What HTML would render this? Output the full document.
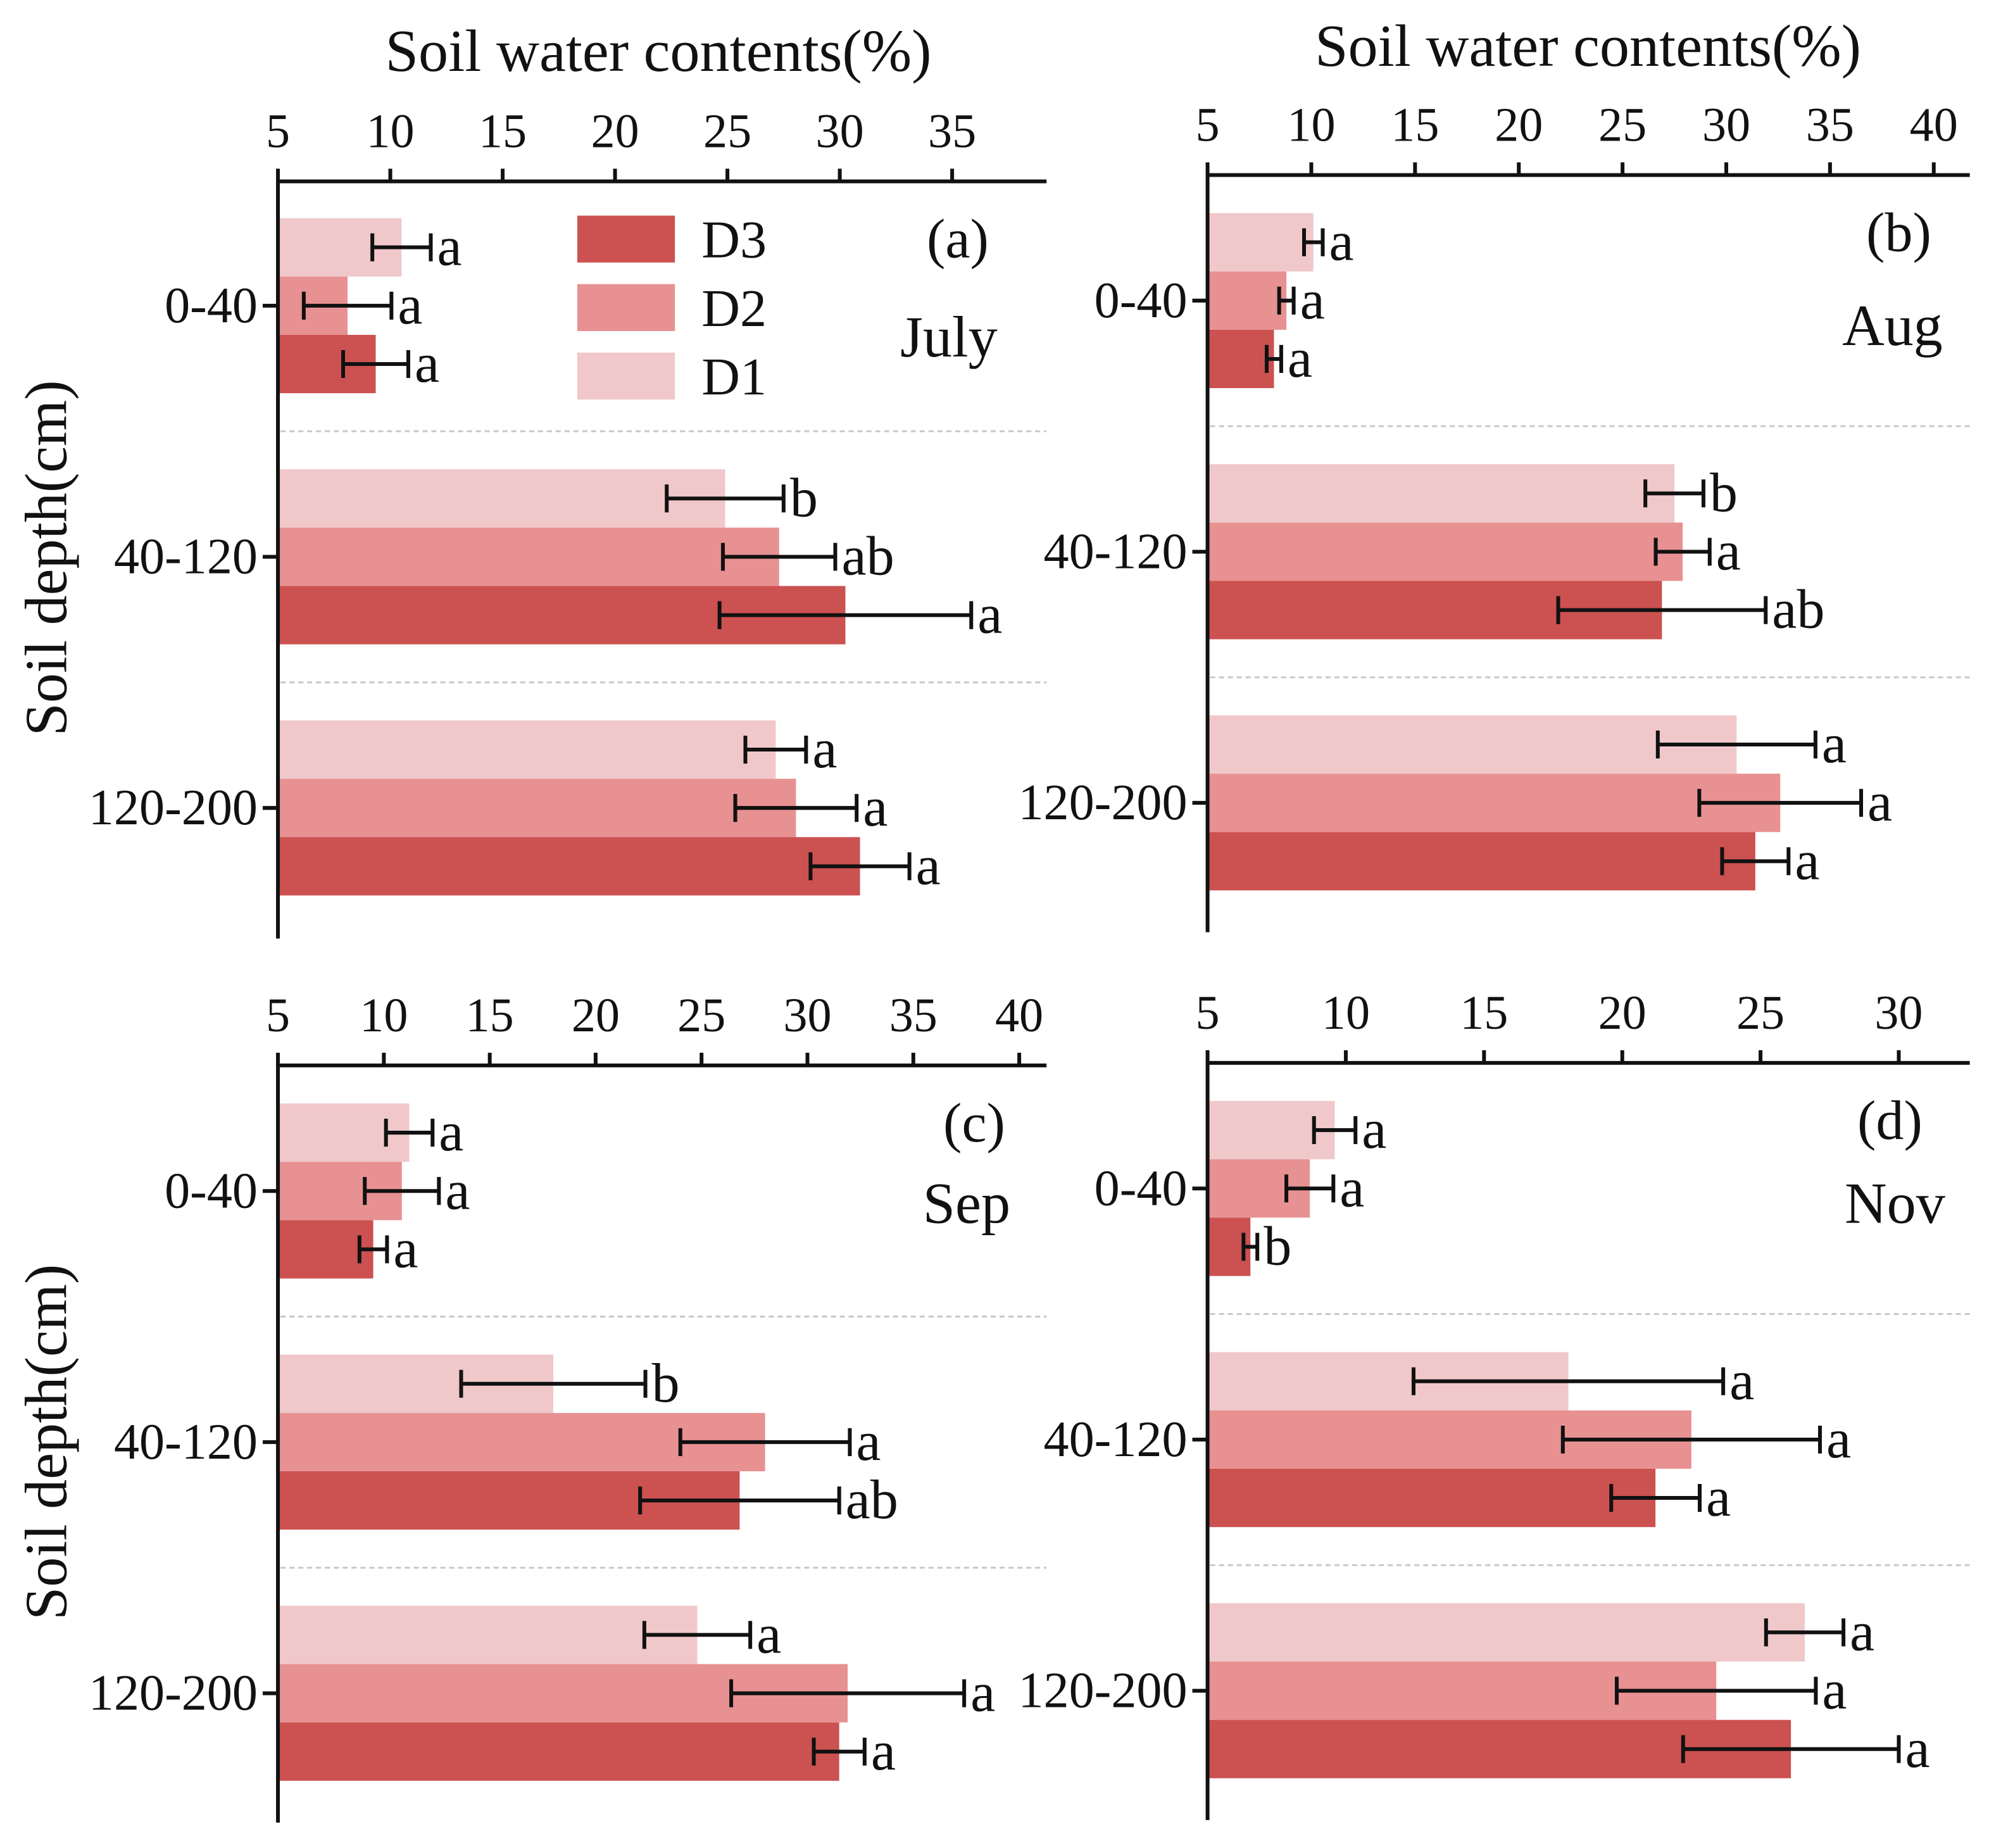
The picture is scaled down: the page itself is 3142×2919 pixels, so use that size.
<!DOCTYPE html>
<html><head><meta charset="utf-8"><style>
html,body{margin:0;padding:0;background:#fff;}
svg{display:block;}
svg text{font-family:"Liberation Serif","DejaVu Serif",serif;fill:#111;}
</style></head><body>
<svg id="fig" width="3142" height="2919" viewBox="0 0 1568 1457" font-family="Liberation Serif, DejaVu Serif, serif" xmlns="http://www.w3.org/2000/svg"></svg>
<script>
const categories = ["0-40","40-120","120-200"];
const series = ["D1","D2","D3"];
// means [category][D1,D2,D3]
const meansA = [[10.5,8.1,9.35],[24.9,27.3,30.25],[27.15,28.05,30.9]];
const errA   = [[1.3,1.95,1.45],[2.6,2.5,5.6],[1.35,2.7,2.2]];
const lettersA = [["a","a","a"],["b","ab","a"],["a","a","a"]];
const meansB = [[10.1,8.8,8.2],[27.5,27.9,26.9],[30.5,32.6,31.4]];
const errB   = [[0.45,0.35,0.35],[1.4,1.3,5.0],[3.8,3.9,1.6]];
const lettersB = [["a","a","a"],["b","a","ab"],["a","a","a"]];
const meansC = [[11.2,10.85,9.5],[18.0,28.0,26.8],[24.8,31.9,31.5]];
const errC   = [[1.1,1.75,0.65],[4.35,4.0,4.7],[2.5,5.5,1.2]];
const lettersC = [["a","a","a"],["b","a","ab"],["a","a","a"]];
const meansD = [[9.6,8.7,6.55],[18.05,22.5,21.2],[26.6,23.4,26.1]];
const errD   = [[0.75,0.85,0.25],[5.6,4.65,1.6],[1.4,3.6,3.9]];
const lettersD = [["a","a","b"],["a","a","a"],["a","a","a"]];
const ticksA = [5,10,15,20,25,30,35];
const ticksB = [5,10,15,20,25,30,35,40];
const ticksC = [5,10,15,20,25,30,35,40];
const ticksD = [5,10,15,20,25,30];
const colors = {D1:"#f0c8ca",D2:"#e89192",D3:"#cc5151"};

const NS="http://www.w3.org/2000/svg";
const FF="'Liberation Serif','DejaVu Serif',serif";
const svg=document.getElementById('fig');
function mk(tag,attrs,parent){const e=document.createElementNS(NS,tag);for(const k in attrs)e.setAttribute(k,attrs[k]);if(tag==='text')e.setAttribute('font-family',FF);(parent||svg).appendChild(e);return e;}

function panel(cfg){
  const g=mk('g',{});
  
  
  const x=v=>cfg.x0+(v-5)*cfg.pu;
  const bandH=198;
  const barH=46;
  categories.forEach((c,ci)=>{
    const top=cfg.firstTop+ci*bandH;
    series.forEach((s,si)=>{
      const m=cfg.means[ci][si], e=cfg.err[ci][si];
      const y=top+si*barH;
      const r=mk('rect',{x:cfg.x0,y:y,width:x(m)-cfg.x0,height:barH,fill:colors[s]},g);
      
      
      const cy=y+barH/2, lo=x(m-e), hi=x(m+e);
      const eb=mk('path',{d:`M${lo},${cy}H${hi}M${lo},${cy-11}V${cy+11}M${hi},${cy-11}V${cy+11}`,stroke:"#111","stroke-width":3,fill:"none"},g);
      
      
      const t=mk('text',{x:hi+5,y:cy+14,"font-size":44},g);
      t.textContent=cfg.letters[ci][si];
      
      
    });
    const cy=top+barH*1.5;
    mk('line',{x1:cfg.x0-12,x2:cfg.x0,y1:cy,y2:cy,stroke:"#111","stroke-width":3},g);
    const lt=mk('text',{x:cfg.x0-16,y:cy+13,"font-size":40,"text-anchor":"end"},g);
    lt.textContent=c;
    
    
    if(ci<2){
      const sy=top+bandH-(bandH-3*barH)/2;
      const sl=mk('line',{x1:cfg.x0+2,x2:cfg.xEnd,y1:sy,y2:sy,stroke:"#c8c8c8","stroke-width":1.5,"stroke-dasharray":"4 3"},g);
      
      
    }
  });
  const xa=mk('line',{x1:cfg.x0,x2:cfg.xEnd,y1:cfg.axisY,y2:cfg.axisY,stroke:"#111","stroke-width":3},g);
  
  
  const ya=mk('line',{x1:cfg.x0,x2:cfg.x0,y1:cfg.axisY-1.5,y2:cfg.axisY+597,stroke:"#111","stroke-width":3},g);
  
  
  cfg.ticks.forEach(v=>{
    mk('line',{x1:x(v),x2:x(v),y1:cfg.axisY-10,y2:cfg.axisY,stroke:"#111","stroke-width":3},g);
    const t=mk('text',{x:x(v),y:cfg.axisY-27,"font-size":38,"text-anchor":"middle"},g);
    t.textContent=v;
    
    
  });
  const pl=mk('text',{x:cfg.labX,y:cfg.axisY+60,"font-size":44,"text-anchor":"middle"},g);
  pl.textContent=cfg.tag;
  
  
  const ml=mk('text',{x:cfg.monX,y:cfg.axisY+cfg.monDy,"font-size":46,"text-anchor":"middle"},g);
  ml.textContent=cfg.month;
  
  
}

panel({id:'a',x0:219,pu:17.72,xEnd:825,axisY:143,firstTop:172,means:meansA,err:errA,letters:lettersA,ticks:ticksA,tag:'(a)',month:'July',labX:755,monX:748,monDy:138});
panel({id:'b',x0:952,pu:16.36,xEnd:1553,axisY:138,firstTop:168,means:meansB,err:errB,letters:lettersB,ticks:ticksB,tag:'(b)',month:'Aug',labX:1497,monX:1492,monDy:134});
panel({id:'c',x0:219,pu:16.7,xEnd:825,axisY:840,firstTop:870,means:meansC,err:errC,letters:lettersC,ticks:ticksC,tag:'(c)',month:'Sep',labX:768,monX:762,monDy:124});
panel({id:'d',x0:952,pu:21.8,xEnd:1553,axisY:838,firstTop:868,means:meansD,err:errD,letters:lettersD,ticks:ticksD,tag:'(d)',month:'Nov',labX:1490,monX:1494,monDy:126});

[[519,56],[1252,52]].forEach(p=>{
  const t=mk('text',{x:p[0],y:p[1],"font-size":47,"text-anchor":"middle"});
  t.textContent='Soil water contents(%)';
  
  
});
[440,1137].forEach(cy=>{
  const t=mk('text',{x:0,y:0,"font-size":47,"text-anchor":"middle",transform:`translate(52,${cy}) rotate(-90)`});
  t.textContent='Soil depth(cm)';
  
  
});
const legendSeries=["D3","D2","D1"];
legendSeries.forEach((s,i)=>{
  const y=170+i*54;
  const r=mk('rect',{x:455,y:y,width:77,height:37,fill:colors[s]});
  
  
  const t=mk('text',{x:553,y:y+33,"font-size":42});
  t.textContent=s;
  
  
});
</script>
</body></html>
